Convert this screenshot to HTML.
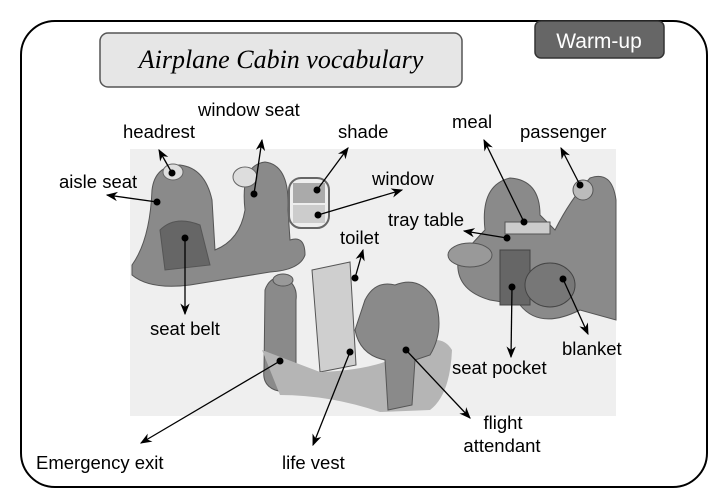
<!DOCTYPE html>
<html><head><meta charset="utf-8"><style>
html,body{margin:0;padding:0;background:#fff;}
svg{display:block}
text{font-family:"Liberation Sans",sans-serif;font-size:18.5px;fill:#000}
</style></head><body>
<svg width="718" height="504" viewBox="0 0 718 504" xmlns="http://www.w3.org/2000/svg">
<defs>
<marker id="a" viewBox="0 0 10 10" refX="9" refY="5" markerWidth="9" markerHeight="9" orient="auto-start-reverse"><path d="M0,1 L10,5 L0,9 L3,5z" fill="#000"/></marker>
</defs>
<rect x="21" y="21" width="686" height="466" rx="34" fill="#fff" stroke="#000" stroke-width="2"/>
<rect x="100" y="33" width="362" height="54" rx="8" fill="#e6e6e6" stroke="#555" stroke-width="1.5"/>
<text x="281" y="68" text-anchor="middle" style="font-family:'Liberation Serif',serif;font-style:italic;font-size:26px">Airplane Cabin vocabulary</text>
<rect x="535" y="21" width="129" height="37" rx="6" fill="#666" stroke="#333" stroke-width="1.5"/>
<text x="599" y="48" text-anchor="middle" style="font-size:21px;fill:#fff">Warm-up</text>

<rect x="130" y="149" width="486" height="267" fill="#efefef"/>
<g fill="#8a8a8a" stroke="#555" stroke-width="1">
<path d="M132 265 Q150 240 152 190 Q155 165 180 165 Q205 168 212 200 L215 250 Q240 240 245 210 Q240 165 265 162 Q290 165 288 210 L290 240 Q305 235 305 255 Q300 270 270 272 L190 285 Q150 290 132 275z"/>
<path d="M458 260 Q475 240 485 230 Q480 185 510 178 Q540 180 540 215 L555 230 Q570 200 590 178 Q612 170 616 200 L616 320 L580 310 Q540 330 520 305 L490 300 Q455 290 458 260z"/>
<path d="M265 290 Q270 275 285 278 Q298 285 296 300 L296 380 Q290 395 275 390 Q262 385 264 370z"/>
<path d="M312 270 L350 262 L356 365 L320 372z" fill="#cfcfcf"/>
<path d="M262 350 L320 372 Q380 370 410 350 Q440 330 452 350 Q450 395 430 410 L380 412 Q330 395 280 395z" fill="#b5b5b5" stroke="none"/>
<path d="M365 300 Q375 280 395 285 Q420 275 435 300 Q445 330 430 355 L415 360 L412 405 L388 410 L385 360 Q360 355 355 330z"/>
<path d="M160 230 Q175 215 200 225 L210 265 L165 270z" fill="#666"/>
</g>
<ellipse cx="173" cy="172" rx="10" ry="8" fill="#ddd" stroke="#666"/>
<ellipse cx="245" cy="177" rx="12" ry="10" fill="#ddd" stroke="#666"/>
<rect x="289" y="178" width="40" height="50" rx="12" fill="#eee" stroke="#666" stroke-width="2"/>
<rect x="293" y="183" width="32" height="20" fill="#aaa"/>
<rect x="293" y="205" width="32" height="18" fill="#ccc"/>
<circle cx="583" cy="190" r="10" fill="#bbb" stroke="#555"/>
<rect x="505" y="222" width="45" height="12" fill="#ccc" stroke="#555"/>
<rect x="500" y="250" width="30" height="55" fill="#666" stroke="#444"/>
<ellipse cx="550" cy="285" rx="25" ry="22" fill="#777" stroke="#444"/>
<ellipse cx="470" cy="255" rx="22" ry="12" fill="#999" stroke="#555"/>
<ellipse cx="283" cy="280" rx="10" ry="6" fill="#999" stroke="#555"/>

<g fill="#000">
<circle cx="172" cy="173" r="3.5"/><circle cx="254" cy="194" r="3.5"/><circle cx="317" cy="190" r="3.5"/>
<circle cx="318" cy="215" r="3.5"/><circle cx="157" cy="202" r="3.5"/><circle cx="185" cy="238" r="3.5"/>
<circle cx="355" cy="278" r="3.5"/><circle cx="507" cy="238" r="3.5"/><circle cx="524" cy="222" r="3.5"/>
<circle cx="580" cy="185" r="3.5"/><circle cx="512" cy="287" r="3.5"/><circle cx="563" cy="279" r="3.5"/>
<circle cx="406" cy="350" r="3.5"/><circle cx="350" cy="352" r="3.5"/><circle cx="280" cy="361" r="3.5"/>
</g>
<g stroke="#000" stroke-width="1.3" marker-end="url(#a)">
<line x1="172" y1="173" x2="159" y2="150"/>
<line x1="254" y1="194" x2="262" y2="140"/>
<line x1="317" y1="190" x2="348" y2="148"/>
<line x1="318" y1="215" x2="402" y2="190"/>
<line x1="157" y1="202" x2="107" y2="195"/>
<line x1="185" y1="238" x2="185" y2="314"/>
<line x1="355" y1="278" x2="363" y2="250"/>
<line x1="507" y1="238" x2="464" y2="231"/>
<line x1="524" y1="222" x2="484" y2="140"/>
<line x1="580" y1="185" x2="561" y2="148"/>
<line x1="512" y1="287" x2="511" y2="357"/>
<line x1="563" y1="279" x2="588" y2="334"/>
<line x1="406" y1="350" x2="470" y2="418"/>
<line x1="350" y1="352" x2="313" y2="445"/>
<line x1="280" y1="361" x2="141" y2="443"/>
</g>

<text x="123" y="138">headrest</text>
<text x="198" y="116">window seat</text>
<text x="338" y="138">shade</text>
<text x="372" y="185">window</text>
<text x="59" y="188">aisle seat</text>
<text x="150" y="335">seat belt</text>
<text x="340" y="244">toilet</text>
<text x="388" y="226">tray table</text>
<text x="452" y="128">meal</text>
<text x="520" y="138">passenger</text>
<text x="452" y="374">seat pocket</text>
<text x="562" y="355">blanket</text>
<text x="503" y="429" text-anchor="middle">flight</text>
<text x="502" y="452" text-anchor="middle">attendant</text>
<text x="282" y="469">life vest</text>
<text x="36" y="469">Emergency exit</text>
</svg>
</body></html>
